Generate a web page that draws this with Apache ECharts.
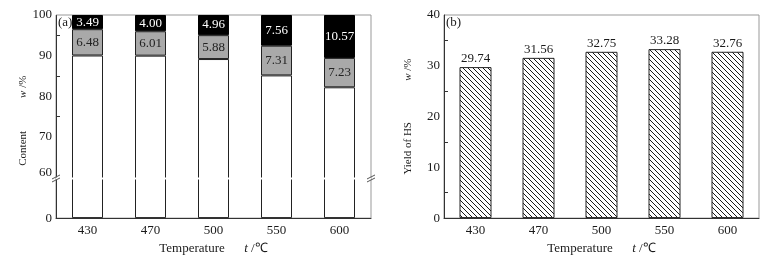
<!DOCTYPE html>
<html>
<head>
<meta charset="utf-8">
<script src="https://cdn.jsdelivr.net/npm/echarts@6/dist/echarts.min.js"></script>
<style>
  html, body { margin: 0; padding: 0; background: #fff; }
  #chart { width: 778px; height: 260px; }
</style>
</head>
<body>
<div id="chart"></div>
<script>
const temps = ['430', '470', '500', '550', '600']
// panel (a): content w/% per temperature
const baseContent = [90.03, 89.99, 89.16, 85.13, 82.20]
const grayContent = [6.48, 6.01, 5.88, 7.31, 7.23]
const blackContent = [3.49, 4.00, 4.96, 7.56, 10.57]
// panel (b): yield of HS w/%
const hsYield = [29.74, 31.56, 32.75, 33.28, 32.76]

const FONT = 'Liberation Serif'
const TXT = '#1a1a1a'
const W = 778, H = 260
const gridA = { left: 56, right: 407, top: 15, bottom: 38 }
const gridB = { left: 444, right: 19, top: 15, bottom: 38 }

// diagonal hatch for panel (b)
const hatch = document.createElement('canvas')
hatch.width = 5
hatch.height = 5
const hc = hatch.getContext('2d')
hc.fillStyle = '#fff'
hc.fillRect(0, 0, 5, 5)
hc.strokeStyle = '#000'
hc.lineWidth = 0.9
hc.beginPath()
hc.moveTo(0, 0); hc.lineTo(5, 5)
hc.moveTo(-1, 4); hc.lineTo(1, 6)
hc.moveTo(4, -1); hc.lineTo(6, 1)
hc.stroke()

const axisLabel = { color: TXT, fontFamily: FONT, fontSize: 13 }

const xAxisCommon = (gridIndex) => ([
  {
    type: 'category',
    gridIndex,
    data: temps,
    axisLine: { lineStyle: { color: '#333' } },
    axisTick: { inside: true, length: 4, lineStyle: { color: '#333' } },
    axisLabel: { ...axisLabel, margin: 6 },
    name: 'Temperature      {i|t} /℃',
    nameLocation: 'middle',
    nameGap: 22,
    nameTextStyle: {
      color: TXT, fontFamily: FONT, fontSize: 13,
      rich: { i: { fontStyle: 'italic', fontFamily: FONT, fontSize: 13, color: TXT } }
    }
  },
  {
    type: 'category',
    gridIndex,
    data: temps,
    axisLine: { show: false },
    axisTick: { inside: true, alignWithLabel: true, length: 7, lineStyle: { color: '#333' } },
    axisLabel: { show: false }
  }
])

const yName = (txt, spaces, tail) => ({
  name: txt + ' '.repeat(spaces) + '{i|w} /%' + ' '.repeat(tail),
  nameLocation: 'middle',
  nameTextStyle: {
    color: TXT, fontFamily: FONT, fontSize: 11,
    rich: { i: { fontStyle: 'italic', fontFamily: FONT, fontSize: 11, color: TXT } }
  }
})

const yTicks = {
  axisLine: { show: true, lineStyle: { color: '#333' } },
  axisTick: { inside: true, length: 6, lineStyle: { color: '#333' } },
  minorTick: { show: true, splitNumber: 2, length: 4, lineStyle: { color: '#333' } },
  splitLine: { show: false },
  axisLabel: { ...axisLabel, margin: 4 }
}

const segLabel = (color) => ({
  show: true,
  position: 'inside',
  color,
  fontFamily: FONT,
  fontSize: 13,
  formatter: (p) => p.value.toFixed(2)
})

const option = {
  animation: false,
  backgroundColor: '#fff',
  title: [
    { text: '(a)', left: 58, top: 16, padding: 0, textStyle: { fontFamily: FONT, fontSize: 13, fontWeight: 'normal', color: TXT } },
    { text: '(b)', left: 446, top: 16, padding: 0, textStyle: { fontFamily: FONT, fontSize: 13, fontWeight: 'normal', color: TXT } }
  ],
  grid: [
    { ...gridA, show: true, borderColor: '#999', borderWidth: 1 },
    { ...gridB, show: true, borderColor: '#999', borderWidth: 1 }
  ],
  xAxis: [...xAxisCommon(0), ...xAxisCommon(1)],
  yAxis: [
    {
      type: 'value',
      gridIndex: 0,
      min: 0,
      max: 100,
      interval: 10,
      ...yTicks,
      axisLabel: {
        ...axisLabel, margin: 4,
        formatter: (v) => (v === 0 || v >= 60) && Number.isInteger(v) ? String(v) : ''
      },
      breaks: [{ start: 9.5, end: 60, gap: 0.5 }],
      breakArea: {
        show: true,
        zigzagAmplitude: 0,
        itemStyle: { color: '#fff', borderColor: '#fff', borderWidth: 0, opacity: 1 }
      },
      ...yName('Content', 12, 3),
      nameGap: 26
    },
    {
      type: 'value',
      gridIndex: 1,
      min: 0,
      max: 40,
      interval: 10,
      ...yTicks,
      ...yName('Yield of HS', 15, 0),
      nameGap: 30
    }
  ],
  series: [
    {
      type: 'bar', xAxisIndex: 0, yAxisIndex: 0, stack: 'a',
      data: baseContent, barWidth: 31,
      itemStyle: { color: '#fff', borderColor: '#222', borderWidth: 1 }
    },
    {
      type: 'bar', xAxisIndex: 0, yAxisIndex: 0, stack: 'a',
      data: grayContent, barWidth: 31,
      itemStyle: { color: '#a9a9a9', borderColor: '#222', borderWidth: 1 },
      label: segLabel('#222')
    },
    {
      type: 'bar', xAxisIndex: 0, yAxisIndex: 0, stack: 'a',
      data: blackContent, barWidth: 31,
      itemStyle: { color: '#000', borderColor: '#000', borderWidth: 1 },
      label: segLabel('#fff')
    },
    {
      type: 'bar', xAxisIndex: 2, yAxisIndex: 1,
      data: hsYield, barWidth: 32,
      itemStyle: { color: { image: hatch, repeat: 'repeat' }, borderColor: '#222', borderWidth: 1 },
      label: {
        show: true, position: 'top', distance: 2, color: TXT, fontFamily: FONT, fontSize: 13,
        formatter: (p) => p.value.toFixed(2)
      }
    }
  ]
}

const chart = echarts.init(document.getElementById('chart'))
chart.setOption(option)

// small "//" break marks on both sides of panel (a)
const yBreak = chart.convertToPixel({ yAxisIndex: 0 }, 60) + 1
const slash = (x, y) => ({
  type: 'line',
  shape: { x1: x - 4, y1: y + 2, x2: x + 4, y2: y - 2 },
  style: { stroke: '#555', lineWidth: 1 },
  z: 100
})
const xl = gridA.left
const xr = W - gridA.right
chart.setOption({
  graphic: [
    slash(xl, yBreak - 1.5), slash(xl, yBreak + 1.5),
    slash(xr, yBreak - 1.5), slash(xr, yBreak + 1.5)
  ]
})
</script>
</body>
</html>
